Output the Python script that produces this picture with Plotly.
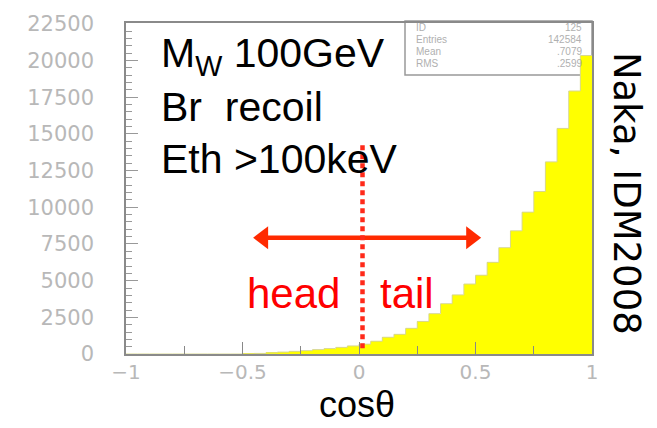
import plotly.graph_objects as go

# ---- data ----
bin_low = -1.0
bin_width = 0.05
counts = [0, 0, 0, 0, 0, 0, 0, 0, 0, 0,
          10, 40, 80, 130, 180, 230, 300, 370, 450, 550,
          670, 870, 1140, 1340, 1750, 2220, 2750, 3430, 4030, 4770,
          5370, 6250, 7250, 8400, 9670, 11080, 13100, 15380, 17930, 20350]
centers = [bin_low + bin_width * (i + 0.5) for i in range(len(counts))]

x_tickvals = [-1, -0.5, 0, 0.5, 1]
x_ticktext = ["\u22121", "\u22120.5", "0", "0.5", "1"]
y_tickvals = [0, 2500, 5000, 7500, 10000, 12500, 15000, 17500, 20000, 22500]
y_ticktext = ["0", "2500", "5000", "7500", "10000", "12500", "15000", "17500", "20000", "22500"]

stats_labels = ["ID", "Entries", "Mean", "RMS"]
stats_values = ["125", "142584", ".7079", ".2599"]

info_lines = ["M<sub>W</sub> 100GeV", "Br  recoil", "Eth >100keV"]

# annotation geometry (data units)
arrow_left, arrow_right, arrow_y = -0.45, 0.52, 7925
divider_x, divider_y0, divider_y1 = 0.015, 400, 14300

W, H = 657, 428
L, R, T, B = 126, 65, 17, 74
PW, PH = W - L - R, H - T - B


def px(xp):
    return (xp - L) / PW


def py(yp):
    return (H - B - yp) / PH


fig = go.Figure()
fig.add_trace(go.Bar(x=centers, y=counts, width=bin_width,
                     marker=dict(color="#ffff00", line=dict(width=0)),
                     hoverinfo="skip"))
fig.add_trace(go.Scatter(x=[c - bin_width / 2 for c in centers] + [1.0],
                         y=counts + [counts[-1]], mode="lines",
                         line=dict(shape="hv", color="#d8d890", width=1),
                         hoverinfo="skip"))

# double arrow: shaft + two triangular heads
head_off = 9 / PW * 2  # ~9 px in data units
fig.add_trace(go.Scatter(x=[arrow_left + head_off, arrow_right - head_off],
                         y=[arrow_y, arrow_y], mode="lines",
                         line=dict(color="#ff2a00", width=4.5), hoverinfo="skip"))
fig.add_trace(go.Scatter(x=[arrow_left + head_off, arrow_right - head_off],
                         y=[arrow_y, arrow_y], mode="markers",
                         marker=dict(symbol=["triangle-left", "triangle-right"], size=20,
                                     color="#ff2a00", line=dict(width=0)),
                         hoverinfo="skip"))

tickfont = dict(family="DejaVu Sans", size=21, color="#b8b8b8")
xtickfont = dict(family="DejaVu Sans", size=20, color="#b8b8b8")
fig.update_layout(
    width=W, height=H,
    margin=dict(l=L, r=R, t=T, b=B),
    paper_bgcolor="white", plot_bgcolor="white",
    showlegend=False, bargap=0,
    xaxis=dict(range=[-1, 1], tickvals=x_tickvals, ticktext=x_ticktext,
               ticks="inside", ticklen=12, tickcolor="#888", tickwidth=1,
               minor=dict(dtick=0.25, tick0=-1, ticks="inside", ticklen=8, tickcolor="#888"),
               showline=True, linecolor="#8a8a8a", linewidth=1.5, mirror=True,
               showgrid=False, zeroline=False, tickfont=xtickfont,
               ticklabelstandoff=-1),
    yaxis=dict(range=[0, 22567], tickvals=y_tickvals, ticktext=y_ticktext,
               ticks="inside", ticklen=12, tickcolor="#999", tickwidth=1,
               minor=dict(dtick=500, tick0=0, ticks="inside", ticklen=6, tickcolor="#999"),
               showline=True, linecolor="#8a8a8a", linewidth=1.5, mirror=True,
               showgrid=False, zeroline=False, tickfont=tickfont,
               ticklabelstandoff=26),
)

# stats box
fig.add_shape(type="rect", xref="paper", yref="paper",
              x0=px(405), x1=px(592), y0=py(70), y1=py(15),
              line=dict(color="#999", width=1.5), fillcolor="rgba(0,0,0,0)", layer="below")
for i, (lab, val) in enumerate(zip(stats_labels, stats_values)):
    yy = py(22 + 12 * i)
    fig.add_annotation(xref="paper", yref="paper", x=px(414), y=yy, text=lab,
                       showarrow=False, xanchor="left", yanchor="middle",
                       font=dict(family="Liberation Sans", size=10, color="#b0b0b0"))
    fig.add_annotation(xref="paper", yref="paper", x=px(584), y=yy, text=val,
                       showarrow=False, xanchor="right", yanchor="middle",
                       font=dict(family="Liberation Sans", size=10, color="#b0b0b0"))

# info text
for i, line in enumerate(info_lines):
    fig.add_annotation(xref="paper", yref="paper", x=px(159), y=py(51 + 52 * i),
                       text=line, showarrow=False, xanchor="left", yanchor="middle",
                       font=dict(family="Liberation Sans", size=41, color="black"))

# dotted divider
fig.add_shape(type="line", xref="x", yref="y", x0=divider_x, x1=divider_x,
              y0=divider_y0, y1=divider_y1,
              line=dict(color="#ff2a1a", width=4.5, dash="5px,4px"))

# head / tail
fig.add_annotation(xref="paper", yref="paper", x=px(245), y=py(292), text="head",
                   showarrow=False, xanchor="left", yanchor="middle",
                   font=dict(family="Liberation Sans", size=42, color="#ff0000"))
fig.add_annotation(xref="paper", yref="paper", x=px(378), y=py(292), text="tail",
                   showarrow=False, xanchor="left", yanchor="middle",
                   font=dict(family="Liberation Sans", size=42, color="#ff0000"))

# x title
fig.add_annotation(xref="paper", yref="paper", x=px(357), y=py(427.5), text="cos\u03b8",
                   showarrow=False, xanchor="center", yanchor="bottom", borderpad=0,
                   font=dict(family="Liberation Sans", size=36, color="black"))

# side label
fig.add_annotation(xref="paper", yref="paper", x=px(626), y=py(190), text="Naka, IDM2008",
                   showarrow=False, xanchor="center", yanchor="middle", textangle=90,
                   font=dict(family="DejaVu Sans", size=37, color="black"))

fig.write_html("out.html")
